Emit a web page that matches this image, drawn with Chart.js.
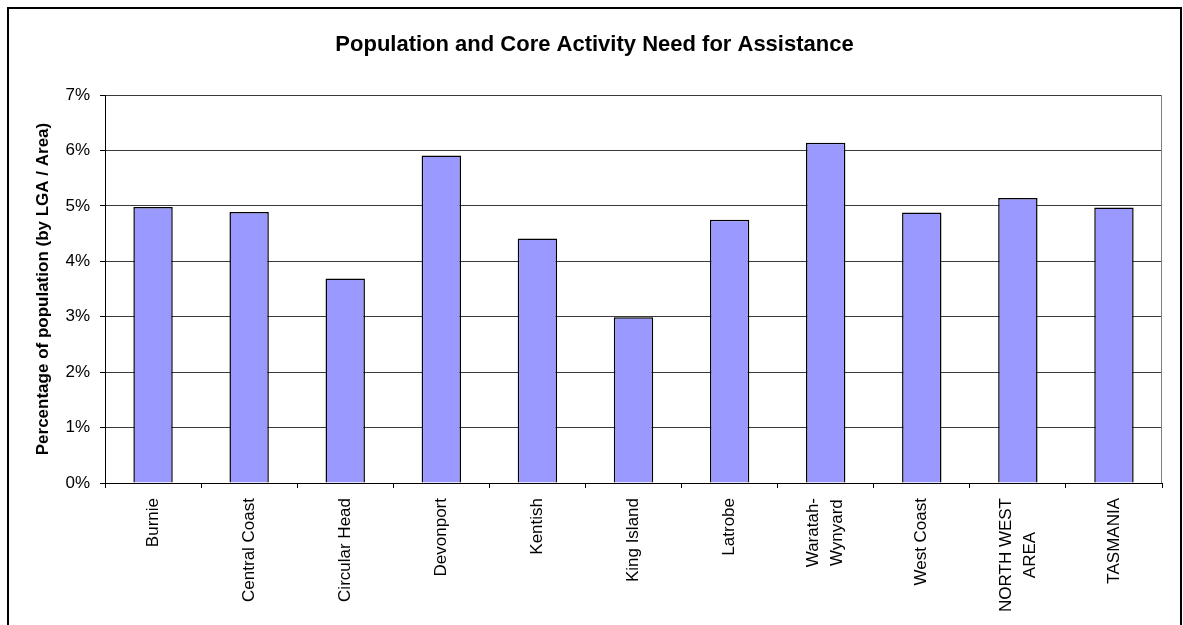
<!DOCTYPE html>
<html>
<head>
<meta charset="utf-8">
<script src="https://cdn.jsdelivr.net/npm/chart.js@4.4.1/dist/chart.umd.min.js"></script>
<style>
  html, body { margin: 0; padding: 0; background: #fff; overflow: hidden; }
  #wrap { position: relative; width: 1183px; height: 625px; }
  canvas { display: block; }
</style>
</head>
<body>
<div id="wrap"><canvas id="c" width="1183" height="625" style="width:1183px;height:625px"></canvas></div>
<script>
// Chart text
const chartTitle = 'Population and Core Activity Need for Assistance';
const yAxisTitle = 'Percentage of population (by LGA / Area)';

// Local government areas, plus the regional and state totals
const categories = [
  'Burnie', 'Central Coast', 'Circular Head', 'Devonport', 'Kentish',
  'King Island', 'Latrobe', ['Waratah-', 'Wynyard'], 'West Coast',
  ['NORTH WEST', 'AREA'], 'TASMANIA'
];

// Share of population needing assistance with core activities (%)
const needPercent = [4.98, 4.89, 3.69, 5.91, 4.41, 2.99, 4.75, 6.14, 4.88, 5.14, 4.97];

// Value axis range and step (%)
const yMin = 0;
const yMax = 7;
const yStep = 1;

const FONT = '"Liberation Sans", Arial, Helvetica, sans-serif';

// Frame, chart title, plot-area edge and centred multi-line category labels
const decor = {
  id: 'decor',
  beforeDraw(chart) {
    const ctx = chart.ctx;
    ctx.save();
    ctx.fillStyle = '#fff';
    ctx.fillRect(0, 0, chart.width, chart.height);
    ctx.restore();
  },
  afterDraw(chart) {
    const ctx = chart.ctx;
    const a = chart.chartArea;
    ctx.save();

    // right edge of the plot area
    ctx.strokeStyle = '#808080';
    ctx.lineWidth = 1;
    const rx = Math.round(a.right) - 0.5;
    ctx.beginPath();
    ctx.moveTo(rx, a.top);
    ctx.lineTo(rx, a.bottom);
    ctx.stroke();

    // outer frame
    ctx.fillStyle = '#000';
    ctx.fillRect(7, 7, 2, chart.height);
    ctx.fillRect(7, 7, 1175, 2);
    ctx.fillRect(1180, 7, 2, chart.height);

    // title
    ctx.font = 'bold 22px ' + FONT;
    ctx.textAlign = 'center';
    ctx.textBaseline = 'middle';
    ctx.fillText(chartTitle, 594.5, 44.5);

    // category labels, rotated, lines centred within each block
    const xs = chart.scales.x;
    ctx.font = '17px ' + FONT;
    categories.forEach((lab, i) => {
      const lines = Array.isArray(lab) ? lab : [lab];
      const w = Math.max(...lines.map(l => ctx.measureText(l).width));
      const x = xs.getPixelForValue(i);
      const y = a.bottom + 15;
      ctx.save();
      ctx.translate(x, y);
      ctx.rotate(-Math.PI / 2);
      ctx.textAlign = 'center';
      ctx.textBaseline = 'middle';
      lines.forEach((l, j) => {
        ctx.fillText(l, -w / 2, (j - (lines.length - 1) / 2) * 24);
      });
      ctx.restore();
    });

    ctx.restore();
  }
};

new Chart(document.getElementById('c'), {
  type: 'bar',
  data: {
    labels: categories,
    datasets: [{
      data: needPercent,
      backgroundColor: '#9999FF',
      borderColor: '#000',
      borderWidth: 1.5,
      barPercentage: 0.41,
      categoryPercentage: 1
    }]
  },
  options: {
    responsive: false,
    animation: false,
    layout: { padding: { top: 95, right: 21, bottom: 0, left: 0 } },
    plugins: {
      legend: { display: false },
      tooltip: { enabled: false },
      title: { display: false }
    },
    scales: {
      x: {
        afterFit(s) { s.height = 142; },
        ticks: { display: false },
        grid: { offset: true, drawOnChartArea: false, color: '#000', tickLength: 5 },
        border: { color: '#000', width: 1 }
      },
      y: {
        min: yMin,
        max: yMax,
        afterFit(s) { s.width = 105; },
        ticks: {
          stepSize: yStep,
          callback: v => v + '%',
          color: '#000',
          font: { family: FONT, size: 17 },
          padding: 10
        },
        grid: { color: '#3a3a3a', tickColor: '#000', tickLength: 5 },
        border: { color: '#000', width: 1 },
        title: {
          display: true,
          text: yAxisTitle,
          color: '#000',
          font: { family: FONT, size: 17, weight: 'bold' },
          padding: { top: 33, bottom: 0 }
        }
      }
    }
  },
  plugins: [decor]
});
</script>
</body>
</html>
